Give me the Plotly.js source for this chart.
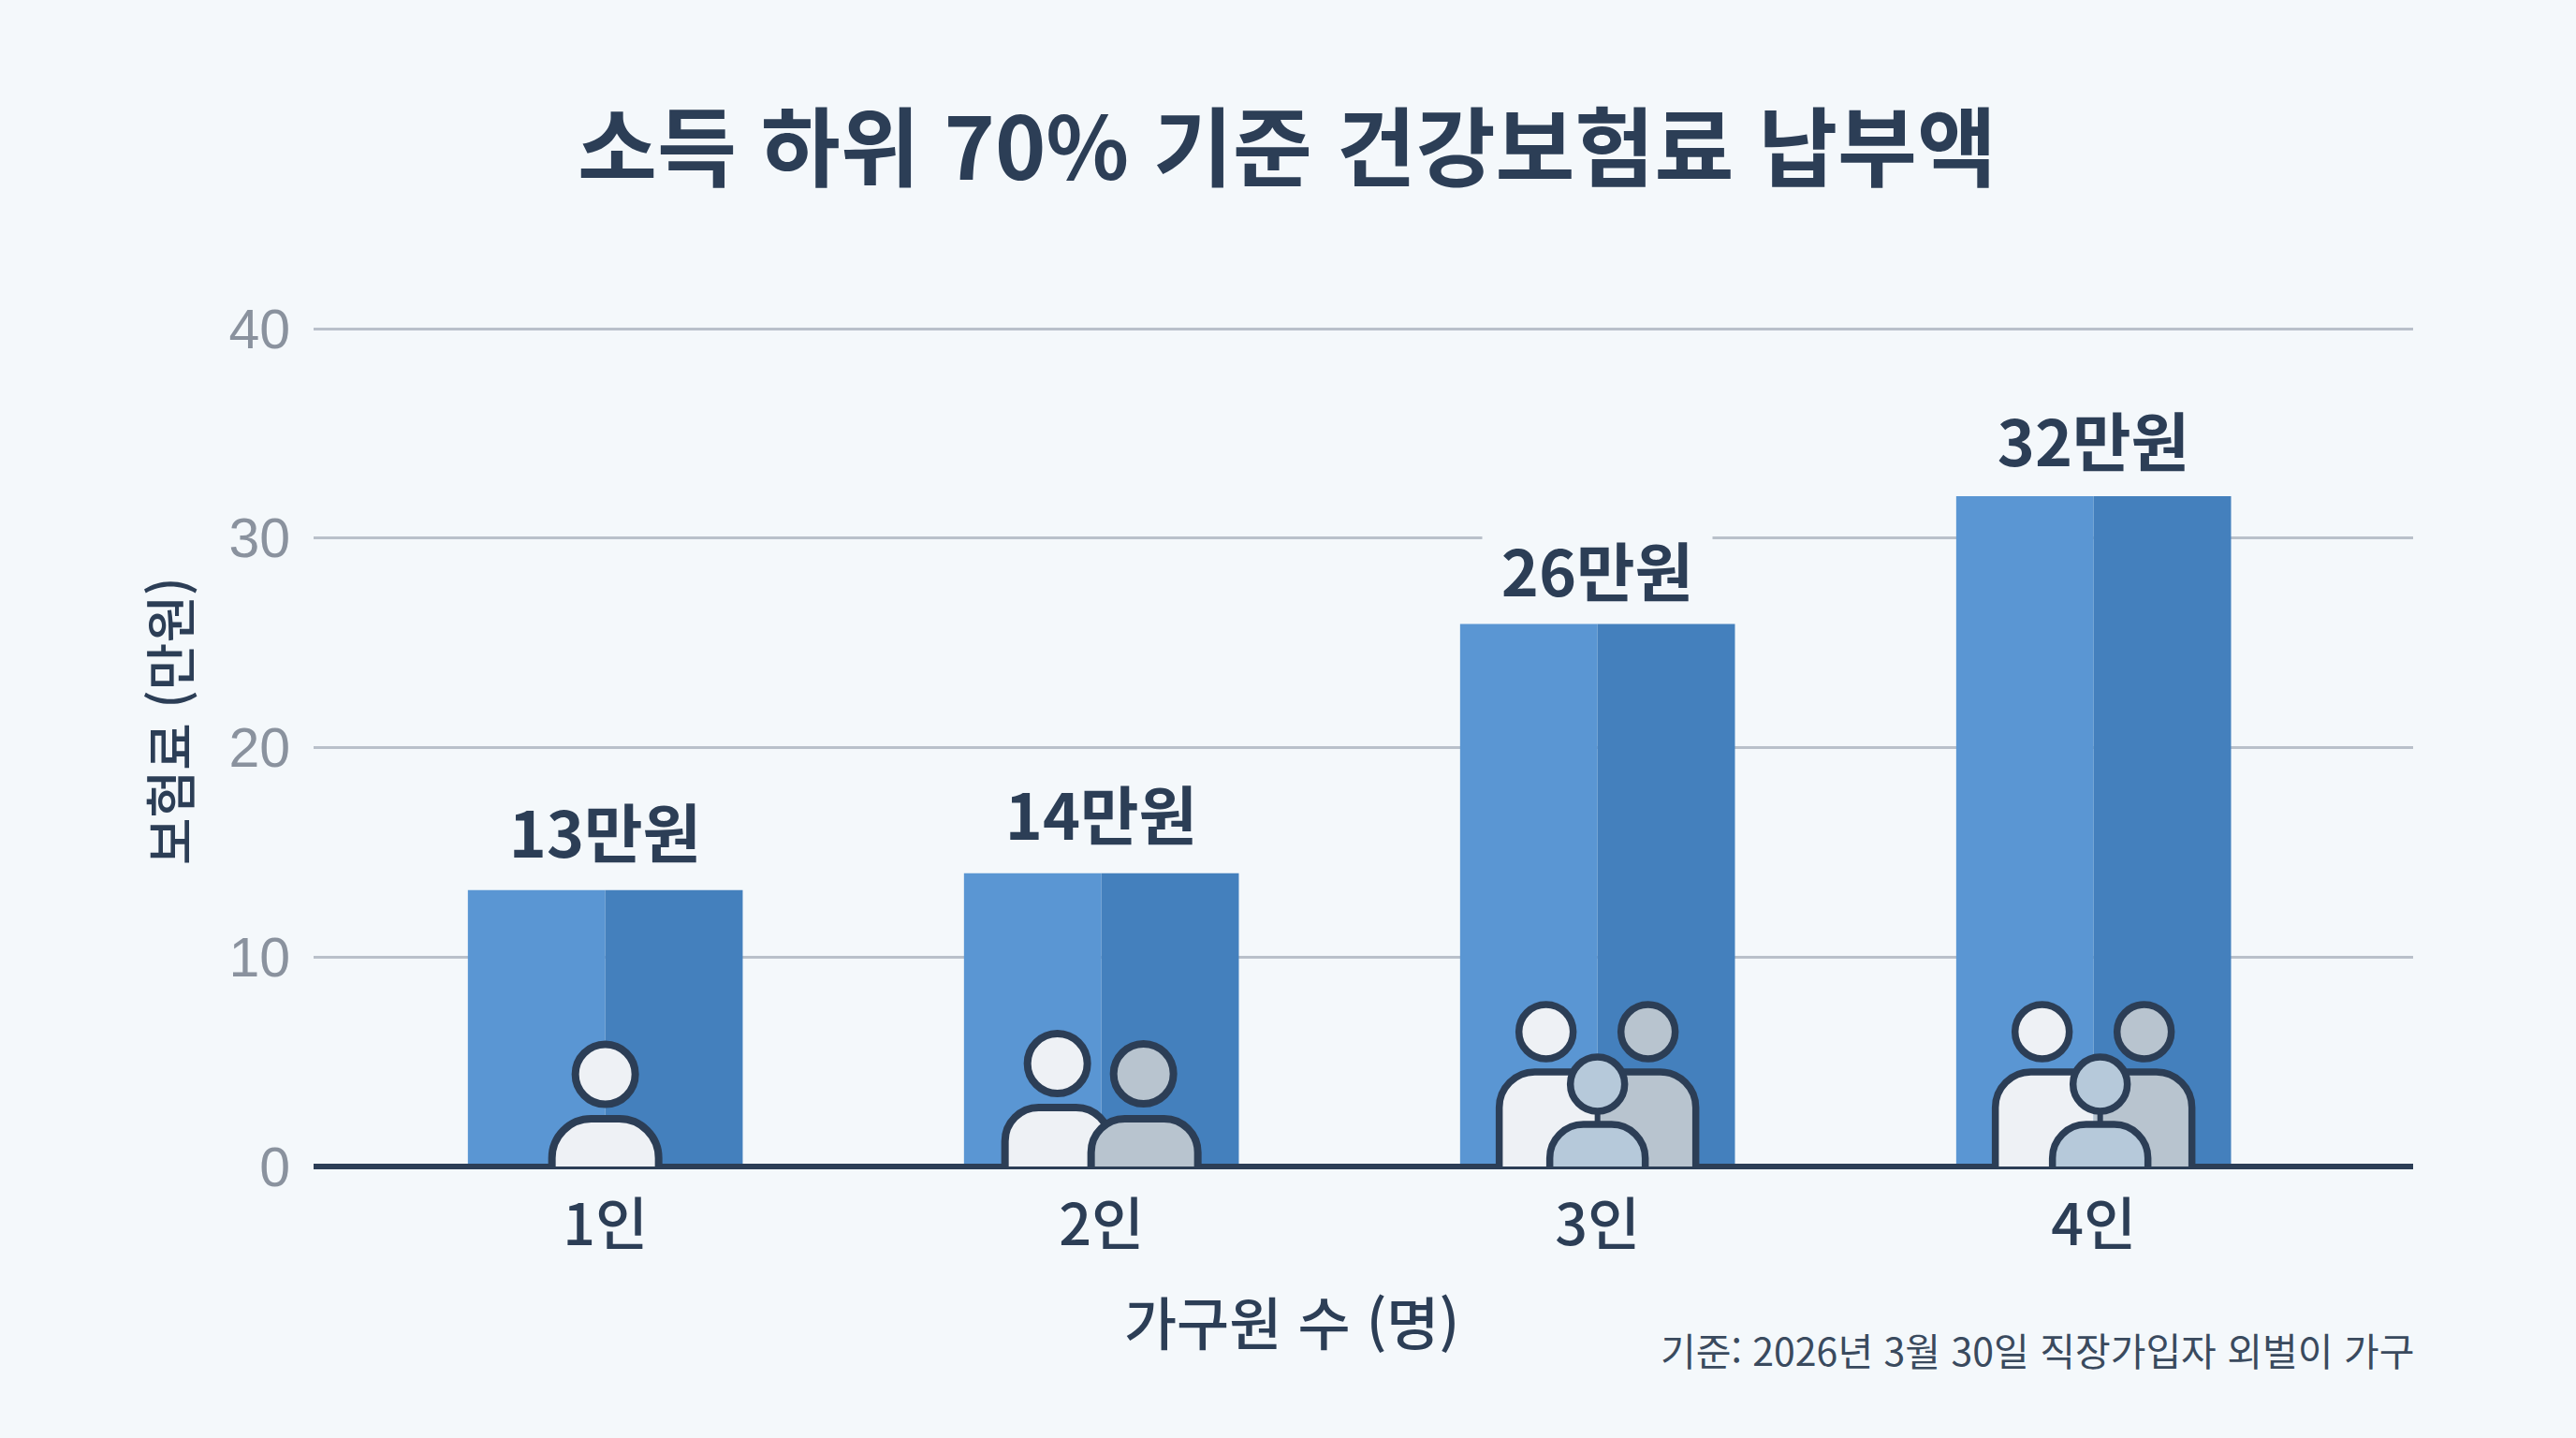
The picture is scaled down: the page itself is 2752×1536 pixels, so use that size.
<!DOCTYPE html>
<html lang="ko"><head><meta charset="utf-8">
<script src="https://cdn.plot.ly/plotly-3.0.1.min.js"></script>
<style>html,body{margin:0;padding:0;background:#f4f8fb}</style></head>
<body><div id="chart" style="width:2752px;height:1536px"></div>
<script>
const categories = ['1인','2인','3인','4인'];
const premiums = [13.2,14,25.9,32];
const valueLabels = ['13만원','14만원','26만원','32만원'];
const labelLift = [65,66,60,62];
const yTicks = [0,10,20,30,40];
const titleText = '소득 하위 70% 기준 건강보험료 납부액';
const xTitleText = '가구원 수 (명)';
const yTitleText = '보험료 (만원)';
const noteText = '기준: 2026년 3월 30일 직장가입자 외벌이 가구';

const FONT = '"Noto Sans CJK KR","Noto Sans",sans-serif';
const INK = '#2c3e56', PAGE = '#f4f8fb', LIGHT = '#eef1f5', GREY = '#b8c4cf', SOFT = '#b6c9da';

// icon geometry helpers: pixels relative to the category centre and y=0
const K = 0.5523;
function ell(cx,cy,r){const c=K*r;return `M${cx-r} ${cy}C${cx-r} ${cy+c} ${cx-c} ${cy+r} ${cx} ${cy+r}C${cx+c} ${cy+r} ${cx+r} ${cy+c} ${cx+r} ${cy}C${cx+r} ${cy-c} ${cx+c} ${cy-r} ${cx} ${cy-r}C${cx-c} ${cy-r} ${cx-r} ${cy-c} ${cx-r} ${cy}Z`;}
function body(cx,hw,top,r){const c=K*r,l=cx-hw,R=cx+hw;return `M${l} 0L${l} ${top-r}C${l} ${top-r+c} ${l+r-c} ${top} ${l+r} ${top}L${R-r} ${top}C${R-r+c} ${top} ${R} ${top-r+c} ${R} ${top-r}L${R} 0`;}
function halfL(cx,hw,top,r){const c=K*r,l=cx-hw;return `M${l} 0L${l} ${top-r}C${l} ${top-r+c} ${l+r-c} ${top} ${l+r} ${top}L${cx} ${top}L${cx} 0Z`;}
function halfR(cx,hw,top,r){const c=K*r,R=cx+hw;return `M${cx} 0L${cx} ${top}L${R-r} ${top}C${R-r+c} ${top} ${R} ${top-r+c} ${R} ${top-r}L${R} 0Z`;}

function sh(cat,path,fill,w){return {type:'path',layer:'above',xref:'x',yref:'y',xsizemode:'pixel',ysizemode:'pixel',xanchor:cat,yanchor:0,path,fillcolor:fill||'rgba(0,0,0,0)',line:{color:INK,width:w===undefined?8:w}};}
const shapes=[];
// 1인
shapes.push(sh(categories[0],ell(0,98.5,32),LIGHT), sh(categories[0],body(0,57,51,42),LIGHT));
// 2인
shapes.push(sh(categories[1],ell(-47,110,32),LIGHT), sh(categories[1],body(-47,56,63,36),LIGHT),
            sh(categories[1],ell(45,99,32),GREY), sh(categories[1],body(46,57,51,36),GREY));
// 3인, 4인
[[categories[2],0],[categories[3],7]].forEach(([c,f])=>{
  shapes.push(sh(c,ell(-55,144,29),LIGHT,7.5), sh(c,ell(54,144,29),GREY,7.5));
  shapes.push(sh(c,halfL(0,105,101,38),LIGHT,0), sh(c,halfR(0,105,101,38),GREY,0), sh(c,body(0,105,101,38),null,7.5));
  shapes.push(sh(c,`M${f} 58L${f} 45`,null,6));
  shapes.push(sh(c,ell(f,88,29),SOFT,7.5), sh(c,body(f,51,45,36),SOFT,7.5));
});

const leftBars={type:'bar',x:categories,y:premiums,width:0.277,offset:-0.277,marker:{color:'#5a96d3',line:{width:0}},hoverinfo:'skip',showlegend:false};
const rightBars={type:'bar',x:categories,y:premiums,width:0.277,offset:0,marker:{color:'#4480bd',line:{width:0}},hoverinfo:'skip',showlegend:false};

const PH = 897;
const annotations=categories.map((c,i)=>({
  x:c,y:premiums[i],xref:'x',yref:'y',text:valueLabels[i],showarrow:false,xanchor:'center',yanchor:'middle',yshift:labelLift[i],
  width:245,height:84,borderpad:0,bgcolor:PAGE,font:{family:FONT,size:68,color:INK,weight:700}
}));
annotations.push(
 {xref:'paper',yref:'paper',x:(1380-335)/2243,y:(1246-1410)/PH,text:xTitleText,showarrow:false,xanchor:'center',yanchor:'middle',font:{family:FONT,size:61,color:INK,weight:500}},
 {xref:'paper',yref:'paper',x:(179-335)/2243,y:(1246-770)/PH,text:yTitleText,showarrow:false,textangle:-90,xanchor:'center',yanchor:'middle',font:{family:FONT,size:55,color:INK,weight:500}},
 {xref:'paper',yref:'paper',x:1,xshift:3,y:(1246-1441)/PH,text:noteText,showarrow:false,xanchor:'right',yanchor:'middle',font:{family:FONT,size:41,color:'#3a4a5e'}}
);

const layout={
  width:2752,height:1536,margin:{l:335,r:174,t:349,b:290,pad:0},
  paper_bgcolor:PAGE,plot_bgcolor:'rgba(0,0,0,0)',barmode:'overlay',showlegend:false,
  title:{text:titleText,x:(1375-335)/2243,xref:'paper',xanchor:'center',y:1-160/1536,yanchor:'middle',font:{family:FONT,size:92.3,color:INK,weight:700}},
  xaxis:{type:'category',categoryorder:'array',categoryarray:categories,range:[-0.588,3.644],showgrid:false,zeroline:false,showline:false,
    ticks:'outside',ticklen:10,tickcolor:'rgba(0,0,0,0)',tickfont:{family:FONT,size:61,color:INK,weight:500},fixedrange:true},
  yaxis:{range:[0,40.09],tickvals:yTicks,showgrid:true,gridcolor:'#b9c0ca',gridwidth:3,zeroline:true,zerolinecolor:INK,zerolinewidth:6,zerolinelayer:'above traces',showline:false,
    ticks:'outside',ticklen:12,tickcolor:'rgba(0,0,0,0)',tickfont:{family:'"Liberation Sans",'+FONT,size:59,color:'#8a929e'},fixedrange:true},
  annotations,shapes
};
Plotly.newPlot('chart',[leftBars,rightBars],layout,{staticPlot:true,displayModeBar:false});
</script></body></html>
